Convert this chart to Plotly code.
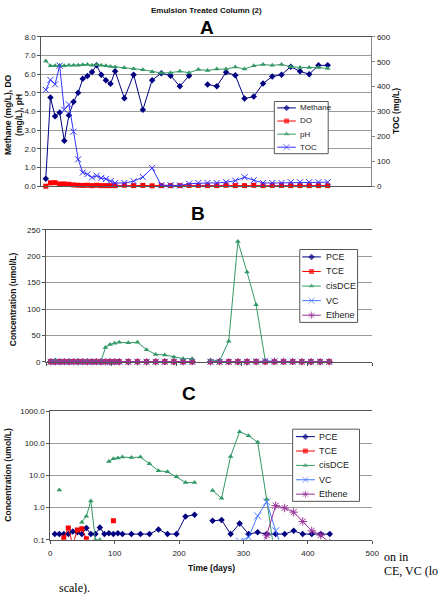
import plotly.graph_objects as go

W, H = 440, 594

# ---------------- data ----------------
days = [7, 14, 21, 28, 35, 42, 49, 56, 63, 70, 77, 84, 91, 98, 105, 112,
        126, 140, 154, 168, 182, 196, 210, 224, 238,
        252, 266, 280, 294, 308, 322, 336, 350, 364, 378, 392, 406, 420, 434]

methane = [0.4, 4.75, 3.75, 3.95, 2.43, 3.8, 4.52, 5.0, 5.75, 5.9, 6.12, 6.47, 5.97, 5.68, 5.48, 6.15,
           4.71, 5.97, 4.09, 5.68, 6.05, 5.92, 5.35, 5.92, None,
           5.45, 5.35, 6.1, 5.94, 4.69, 4.8, 5.5, 5.87, 5.97, 6.4, 6.15, 6.0, 6.47, 6.47]
do = [0.0, 0.18, 0.19, 0.12, 0.12, 0.10, 0.07, 0.05, 0.04, 0.05, 0.03, 0.05, 0.03, 0.03, 0.03, 0.03,
      0.05, 0.03, 0.04, 0.02, 0.03, 0.03, 0.03, 0.04, 0.04,
      0.03, 0.03, 0.05, 0.03, 0.03, 0.05, 0.03, 0.04, 0.04, 0.03, 0.03, 0.03, 0.03, 0.03]
ph = [6.7, 6.45, 6.45, 6.47, 6.45, 6.47, 6.47, 6.48, 6.5, 6.52, 6.47, 6.5, 6.47, 6.45, 6.41, 6.38,
      6.34, 6.29, 6.24, 6.13, 6.06, 6.08, 6.15, 6.08, 6.25,
      6.2, 6.27, 6.27, 6.38, 6.27, 6.45, 6.52, 6.47, 6.52, 6.4, 6.36, 6.36, 6.36, 6.3]
toc = [387, 427, 409, 484, 307, 328, 219, 108, 55, 48, 35, 42, 33, 29, 20, 13,
       13, 20, 37, 73, 4, 4, 3, 10, 13,
       13, 13, 16, 22, 36, 24, 13, 13, 13, 16, 16, 16, 16, 16]

pce = [0.15, 0.15, 0.15, 0.15, 0.18, 0.17, 0.15, 0.23, 0.15, 0.15, 0.24, 0.15, 0.16, 0.15, 0.16, 0.15,
       0.15, 0.15, 0.15, 0.21, 0.15, 0.15, 0.53, 0.6, None,
       0.39, 0.41, 0.15, 0.32, 0.15, 0.17, 0.15, 0.15, 0.15, 0.19, 0.15, 0.15, 0.15, 0.15]
tce = [0, 0.06, 0.115, 0.23, 0.07, 0.2, 0.22, 0.107, 0, 0, 0, 0, 0, 0.39, 0, 0,
       0, 0, 0, 0, 0, 0, 0, 0, None,
       0, 0, 0, 0, 0, 0, 0, 0, 0, 0, 0, 0, 0, 0]
cisdce = [0, 3.5, 0, 0, 0, 0, 0.35, 0.54, 1.6, 0.1, 0.1, 0, 27, 33, 35, 37,
          36, 37, 23, 14, 13, 9, 6, 6, None,
          3.4, 1.95, 39, 228, 170, 108, 1.8, 0.02, 0, 0, 0, 0, 0, 0]
vc = [0, 0, 0, 0, 0, 0, 0, 0, 0, 0, 0, 0, 0, 0, 0, 0,
      0, 0, 0, 0, 0, 0, 0, 0, None,
      0, 0, 0, 0.09, 0.12, 0.55, 1.5, 0.19, 0.03, 0, 0, 0, 0, 0]
ethene = [0, 0, 0, 0, 0, 0, 0, 0, 0, 0, 0, 0, 0, 0, 0, 0,
          0, 0, 0, 0, 0, 0, 0, 0, None,
          0, 0, 0, 0, 0, 0.03, 0.14, 1.15, 0.97, 0.72, 0.37, 0.19, 0.14, 0.08]

log_ticks = [0.1, 1, 10, 100, 1000]
log_tick_text = ["0.1", "1.0", "10.0", "100.0", "1000.0"]

# ---------------- styling ----------------
FONT = "Arial, Liberation Sans, sans-serif"
NAVY = "#000080"
RED = "#ff0000"
GREEN = "#339966"
BLUE = "#3333ff"
VCBLUE = "#4477ff"
PURPLE = "#993399"
GRID = "#9a9a9a"
AXL = "#555555"


def px(x):
    return x / W


def py(y):
    return 1 - y / H


def marker_of(sym, size, col):
    mk = dict(symbol=sym, size=size, color=col)
    if "open" in sym:
        mk["line"] = dict(width=1, color=col)
    return mk


fig = go.Figure()

seriesA = [
    ("Methane", methane, NAVY, "diamond", 5, "y"),
    ("DO", do, RED, "square", 5, "y"),
    ("pH", ph, GREEN, "triangle-up", 5, "y"),
    ("TOC", toc, BLUE, "x-thin-open", 6, "y2"),
]
for name, vals, col, sym, sz, ya in seriesA:
    fig.add_trace(go.Scatter(x=days, y=vals, name=name, mode="lines+markers",
                             line=dict(color=col, width=1), marker=marker_of(sym, sz, col),
                             xaxis="x", yaxis=ya, cliponaxis=False, hoverinfo="skip"))

species = [
    ("PCE", pce, NAVY, "diamond", 5),
    ("TCE", tce, RED, "square", 5),
    ("cisDCE", cisdce, GREEN, "triangle-up", 5),
    ("VC", vc, VCBLUE, "x-thin-open", 6),
    ("Ethene", ethene, PURPLE, "asterisk-open", 6),
]
# panel B (linear)
for name, vals, col, sym, sz in species:
    fig.add_trace(go.Scatter(x=days, y=vals, name=name, mode="lines+markers",
                             line=dict(color=col, width=1), marker=marker_of(sym, sz, col),
                             xaxis="x2", yaxis="y3", cliponaxis=False, hoverinfo="skip"))
# panel C (log) - non-positive values cannot be drawn on a log axis
for name, vals, col, sym, sz in species:
    fig.add_trace(go.Scatter(x=days, y=[v if (v is not None and v > 0) else None for v in vals],
                             name=name, mode="lines+markers",
                             line=dict(color=col, width=1),
                             marker=marker_of(sym, sz + 1 if "open" in sym else sz, col),
                             xaxis="x3", yaxis="y4", cliponaxis=True, hoverinfo="skip"))

# ---------------- legends (compact, Excel style) on a helper pixel axis ----------------
legends = [
    dict(box=(278, 99, 333, 152), y0=105.5, dy=13.3, line=(281, 300), tx=302.5, fs=8,
         items=[(n, c, s, z) for n, _, c, s, z, _ in seriesA]),
    dict(box=(304, 249.3, 363, 323.3), y0=256.8, dy=14.8, line=(306.5, 325.5), tx=329, fs=9,
         items=[(n, c, s, z) for n, _, c, s, z in species]),
    dict(box=(296.7, 431.7, 365, 505), y0=439.3, dy=14.6, line=(300, 319.5), tx=322, fs=9,
         items=[(n, c, s, z) for n, _, c, s, z in species]),
]
leg_ann = []
for lg in legends:
    x0, y0, x1, y1 = lg["box"]
    fig.add_trace(go.Scatter(x=[x0, x1, x1, x0, x0], y=[y0, y0, y1, y1, y0], mode="lines",
                             fill="toself", fillcolor="white", line=dict(color="#555", width=1),
                             xaxis="x4", yaxis="y5", hoverinfo="skip"))
    for i, (n, c, s, z) in enumerate(lg["items"]):
        yc = lg["y0"] + i * lg["dy"]
        la, lb = lg["line"]
        fig.add_trace(go.Scatter(x=[la, (la + lb) / 2, lb], y=[yc, yc, yc], mode="lines+markers",
                                 line=dict(color=c, width=1),
                                 marker=dict(symbol=s, size=[0, z, 0], color=c,
                                             line=dict(width=1 if "open" in s else 0, color=c)),
                                 xaxis="x4", yaxis="y5", hoverinfo="skip"))
        leg_ann.append(dict(text=n, x=px(lg["tx"]), y=py(yc), xref="paper", yref="paper",
                            showarrow=False, xanchor="left", yanchor="middle",
                            font=dict(family=FONT, size=lg["fs"], color="#222")))

tickfont = dict(family=FONT, size=8, color="#222")
common_y = dict(showgrid=True, gridcolor=GRID, gridwidth=1, zeroline=False, showline=True,
                linecolor=AXL, linewidth=1, ticks="outside", ticklen=3, tickcolor=AXL,
                tickfont=tickfont, mirror=False)

dA_x = [px(40), px(377)]
dA_y = [py(185), py(33.3)]
dB_x = [px(45), px(378)]
dB_y = [py(363.3), py(229.3)]
dC_x = [px(49.3), px(378)]
dC_y = [py(544), py(413.3)]

fig.update_layout(
    width=W, height=H,
    margin=dict(l=0, r=0, t=0, b=0),
    paper_bgcolor="white", plot_bgcolor="rgba(0,0,0,0)",
    font=dict(family=FONT, size=8, color="#222"),
    showlegend=False,
    xaxis=dict(domain=dA_x, anchor="y", range=[0, 500], showgrid=False, zeroline=False,
               showline=True, linecolor=AXL, showticklabels=False, ticks="", mirror=True),
    yaxis=dict(domain=dA_y, anchor="x", range=[0, 8], dtick=1, tickformat=".1f", **common_y),
    yaxis2=dict(overlaying="y", anchor="x", side="right", range=[0, 600], dtick=100,
                showgrid=False, zeroline=False, showline=True, linecolor="#888", linewidth=1,
                ticks="outside", ticklen=3, tickcolor="#888", tickfont=tickfont),
    xaxis2=dict(domain=dB_x, anchor="y3", range=[0, 500], dtick=100, showgrid=False, zeroline=False,
                showline=True, linecolor=AXL, mirror=True, ticks="outside", ticklen=3, tickcolor=AXL,
                tickfont=tickfont, ticklabelstandoff=5),
    yaxis3=dict(domain=dB_y, anchor="x2", range=[0, 250], dtick=50, **common_y),
    xaxis3=dict(domain=dC_x, anchor="y4", range=[0, 500], dtick=100, showgrid=False, zeroline=False,
                showline=True, linecolor=AXL, mirror=True, ticks="outside", ticklen=3, tickcolor=AXL,
                tickfont=tickfont, ticklabelstandoff=3),
    yaxis4=dict(domain=dC_y, anchor="x3", type="log", range=[-1, 3], tickvals=log_ticks,
                ticktext=log_tick_text, **common_y),
    xaxis4=dict(domain=[0, 1], anchor="y5", range=[0, W], visible=False, fixedrange=True),
    yaxis5=dict(domain=[0, 1], anchor="x4", range=[H, 0], visible=False, fixedrange=True),
)

# cover strip hiding the lower part of panel B's tick labels (as in the source image)
fig.add_shape(type="rect", xref="paper", yref="paper", x0=0, x1=1, y0=py(384), y1=py(376),
              fillcolor="white", line=dict(width=0), layer="above")

ann = []


def add_text(text, x, y, size, bold=True, angle=0, family=FONT, xanchor="center", color="#111"):
    t = f"<b>{text}</b>" if bold else text
    ann.append(dict(text=t, x=px(x), y=py(y), xref="paper", yref="paper", showarrow=False,
                    textangle=angle, xanchor=xanchor, yanchor="middle",
                    font=dict(family=family, size=size, color=color)))


SERIF = "Liberation Serif, Times New Roman, serif"
add_text("Emulsion Treated Column (2)", 209, 7, 8)
add_text("A", 209, 24, 19, color="#000")
add_text("B", 200, 213, 19, color="#000")
add_text("C", 191, 395, 19, color="#000")
add_text("Methane (mg/L), DO<br>(mg/L), pH", 12, 112, 8.5, angle=-90)
add_text("TOC (mg/L)", 403, 109, 8.5, angle=-90)
add_text("Concentration (umol/L)", 12, 300, 8.5, angle=-90)
add_text("Concentration (umol/L)", 6, 478, 8.5, angle=-90)
add_text("Time (days)", 214, 573, 8.5)
add_text("on in", 388, 562, 12, bold=False, family=SERIF, xanchor="left", color="#000")
add_text("CE, VC (lo", 388, 576, 12, bold=False, family=SERIF, xanchor="left", color="#000")
add_text("scale).", 56, 593, 12, bold=False, family=SERIF, xanchor="left", color="#000")
fig.update_layout(annotations=ann + leg_ann)

fig.write_html("out.html")
